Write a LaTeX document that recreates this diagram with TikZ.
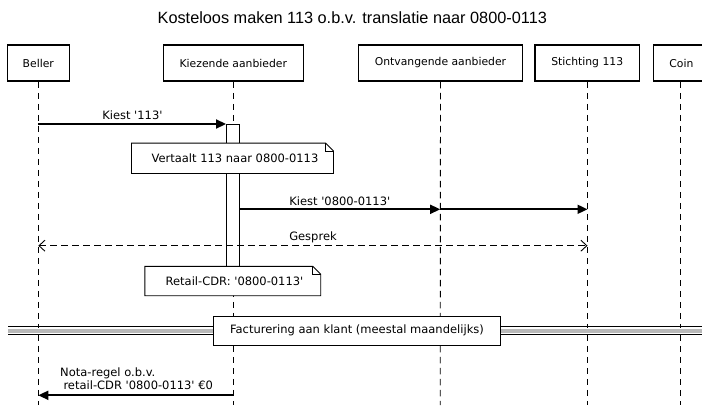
\documentclass[tikz,border=0pt]{standalone}
\usepackage{fontspec}
\setmainfont{DejaVu Sans}
\newfontfamily\titlefont{Liberation Sans}
\usetikzlibrary{arrows.meta}
\newcommand{\sq}{\textquotesingle}
\tikzset{
  x=1pt, y=-1pt,
  partbox/.style={draw=black, line width=1.5pt, fill=white, minimum height=36pt, inner sep=0pt, font=\fontsize{10.8}{12}\selectfont},
  lifeline/.style={draw=black, line width=0.9pt, dash pattern=on 6.5pt off 4.5pt},
  actbox/.style={draw=black, line width=0.9pt, fill=white, minimum width=13pt, inner sep=0pt},
  notetext/.style={inner sep=0pt, font=\fontsize{11.5}{13}\selectfont},
  noteline/.style={draw=black, line width=0.9pt, fill=white},
  msg/.style={draw=black, line width=1.8pt, -{Triangle[length=10pt,width=9pt]}},
  dmsg/.style={draw=black, line width=0.9pt, dash pattern=on 6.5pt off 4.5pt, {Straight Barb[length=6pt,width=11pt,line width=0.9pt]}-{Straight Barb[length=6pt,width=11pt,line width=0.9pt]}},
  msglabel/.style={inner sep=0pt, anchor=base, font=\fontsize{11.5}{13}\selectfont},
  sepbox/.style={draw=black, line width=0.9pt, fill=white, inner sep=0pt, font=\fontsize{11.5}{13}\selectfont}
}
\begin{document}
\begin{tikzpicture}
\useasboundingbox (0,0) rectangle (702,405);
\fill[white] (0,0) rectangle (702,405);

% title
\node[inner sep=0pt, anchor=base, font=\titlefont\fontsize{16.3}{18}\selectfont] (title) at (352.3,23) {Kosteloos maken 113 o.b.v. translatie naar 0800-0113};

% participants
\node[partbox, minimum width=62pt] (beller) at (38.3,63) {Beller};
\node[partbox, minimum width=140pt] (kiez) at (233.3,63) {Kiezende aanbieder};
\node[partbox, minimum width=164.4pt] (ontv) at (440.5,63) {Ontvangende aanbieder};
\node[partbox, minimum width=104.3pt] (stich) at (587.2,63) {Stichting 113};
\node[partbox, minimum width=56pt, anchor=west] (coin) at (652.7,63) {Coin};

% lifeline end points
\coordinate (bellerE) at (38.3,405);
\coordinate (kiezE) at (233.3,405);
\coordinate (ontvE) at (440.2,405);
\coordinate (stichE) at (587.5,405);
\coordinate (coinE) at (680,405);
\draw[lifeline] (beller.south) -- (bellerE);
\draw[lifeline] (kiez.south) -- (kiezE);
\draw[lifeline] (ontv.south |- beller.south) -- (ontvE);
\draw[lifeline] (stich.south -| stichE) -- (stichE);
\draw[lifeline] (coinE |- coin.south) -- (coinE);

% activation
\node[actbox, minimum height=162pt, anchor=north] (act) at (233,123.5) {};

% separator
\coordinate (sepL) at (8,330.3);
\coordinate (sepR) at (702,330.3);
\fill[gray!55] (8,327.5) rectangle (702,333);
\draw[black, line width=0.9pt] (8,326.6) -- (702,326.6);
\draw[black, line width=0.9pt] (8,334) -- (702,334);
\draw[white, line width=0.8pt] (8,328.6) -- (702,328.6);
\node[sepbox, minimum width=287.4pt, minimum height=29pt] (sep) at (357,330.5) {Facturering aan klant (meestal maandelijks)};

% message 1
\coordinate (m1s) at (38.3,124);
\draw[msg] (m1s) -- (act.west |- m1s);
\node[msglabel] (l1) at (132.4,119.3) {Kiest \sq113\sq};

% note 1
\node[notetext, minimum width=201.6pt, minimum height=30pt] (n1) at (232.5,158.3) {};
\draw[noteline] (n1.south west) -- (n1.north west) -- ([xshift=-8pt]n1.north east) -- ([yshift=-8pt]n1.north east) -- (n1.south east) -- cycle;
\draw[black, line width=0.9pt] ([xshift=-8pt]n1.north east) |- ([yshift=-8pt]n1.north east);
\node[notetext] (n1t) at (235,158.3) {Vertaalt 113 naar 0800-0113};

% message 2
\coordinate (m2s) at (239.5,209.3);
\coordinate (m2m) at (440.2,209.3);
\coordinate (m2e) at (587.5,209.3);
\draw[msg] (act.east |- m2s) -- (m2m);
\draw[msg] (m2m) -- (m2e);
\node[msglabel] (l2) at (339.8,205) {Kiest \sq0800-0113\sq};

% gesprek
\coordinate (g1) at (38.3,245.7);
\coordinate (g2) at (587.5,245.7);
\draw[dmsg] (g1) -- (g2);
\node[msglabel] (l3) at (313,240.7) {Gesprek};

% note 2
\node[notetext, minimum width=175.5pt, minimum height=29pt] (n2) at (232.8,281) {};
\draw[noteline] (n2.south west) -- (n2.north west) -- ([xshift=-8pt]n2.north east) -- ([yshift=-8pt]n2.north east) -- (n2.south east) -- cycle;
\draw[black, line width=0.9pt] ([xshift=-8pt]n2.north east) |- ([yshift=-8pt]n2.north east);
\node[notetext] (n2t) at (234.5,281) {Retail-CDR: \sq0800-0113\sq};

% nota message
\coordinate (m4s) at (233.3,395.3);
\coordinate (m4e) at (38.3,395.3);
\draw[msg] (m4s) -- (m4e);
\node[msglabel, align=left, anchor=base west] (l4a) at (60,376) {Nota-regel o.b.v.};
\node[msglabel, align=left, anchor=base west] (l4b) at (63.3,389.3) {retail-CDR \sq0800-0113\sq{} €0};
\end{tikzpicture}
\end{document}
